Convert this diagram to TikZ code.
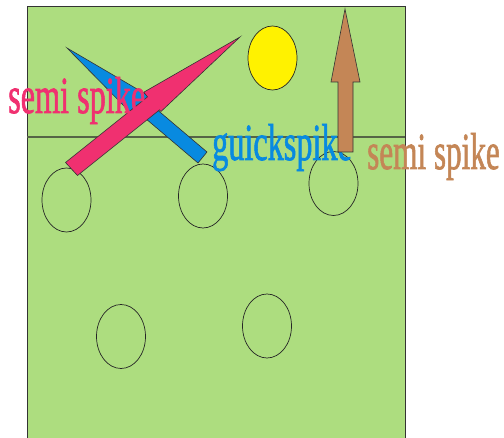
\documentclass[tikz,border=0pt]{standalone}
\usepackage{fontspec}
\usepackage{graphicx}
\usetikzlibrary{shapes.geometric}
\newfontfamily\spikefont[FakeBold=1.6]{Liberation Serif}
\definecolor{fieldgreen}{RGB}{173,221,127}
\definecolor{spikepink}{RGB}{240,48,112}
\definecolor{spikeblue}{RGB}{8,138,224}
\definecolor{spikebrown}{RGB}{196,134,86}
\definecolor{netline}{RGB}{85,100,70}
\begin{document}
\begin{tikzpicture}[x=1pt,y=-1pt,
  player/.style={ellipse,draw=black!85,line width=0.7pt,minimum width=49pt,minimum height=64pt,inner sep=0pt},
  arrowshape/.style={draw=black!80,line width=0.6pt,line join=miter},
  spiketext/.style={anchor=base west,inner sep=0pt,font=\spikefont\fontsize{52}{52}\selectfont}]
\useasboundingbox (0,0) rectangle (504,438);
\fill[fieldgreen,draw=black!80,line width=0.8pt] (27,6) rectangle (405,445);
\coordinate (netL) at (27,137);
\coordinate (netR) at (405,137);
\draw[netline,line width=1.2pt] (netL) -- (netR);
% players
\node[player] (p1) at (66.5,200) {};
\node[player] (p2) at (203,196) {};
\node[player] (p3) at (333.5,183.5) {};
\node[player] (p4) at (121,336.5) {};
\node[player] (p5) at (267,326) {};
% ball
\node[player,fill=yellow] (ball) at (272.5,58) {};
% blue quick spike arrow
\draw[arrowshape,fill=spikeblue] (67,48) -- (149,96) -- (145.6,99.9) -- (207,152) -- (198,163) -- (136.6,110.9) -- (132,114) -- cycle;
% pink semi spike arrow
\draw[arrowshape,fill=spikepink] (240,37) -- (161,111.5) -- (159.5,109.9) -- (77.5,175.5) -- (65.5,162.5) -- (147.5,96.9) -- (143.8,92.2) -- cycle;
% labels
\node[spiketext,text=spikepink] (t1) at (8,113) {\scalebox{0.62}[1]{semi spike}};
\node[spiketext,text=spikeblue] (t2) at (212,160) {\scalebox{0.62}[1]{guickspike}};
% brown arrow
\draw[arrowshape,fill=spikebrown] (345,9) -- (360,82) -- (353,82) -- (353,152) -- (338,152) -- (338,82) -- (331,82) -- cycle;
\node[spiketext,text=spikebrown] (t3) at (367,169) {\scalebox{0.6}[1]{semi spike}};
\end{tikzpicture}
\end{document}
